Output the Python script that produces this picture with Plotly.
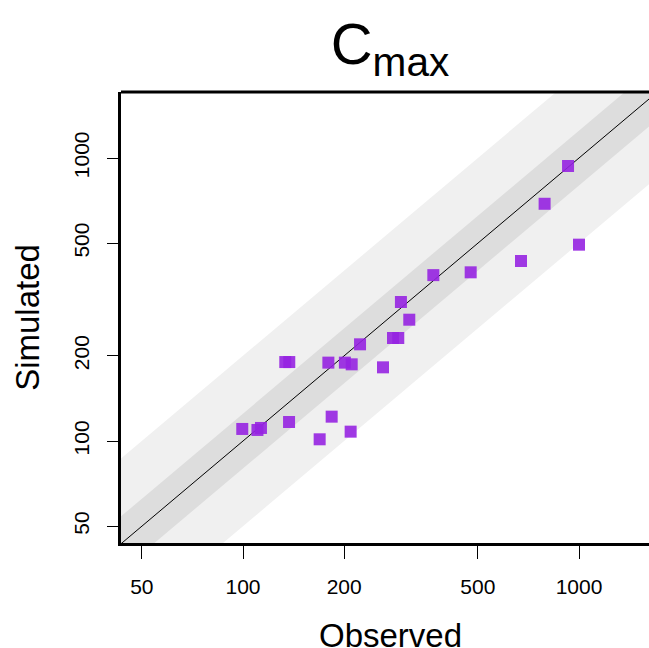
import plotly.graph_objects as go

# Observed vs simulated Cmax values
observed = [99.5, 110.4, 113.1, 137.1, 133.6, 137.3, 179.5, 183.6, 169.1,
            201.0, 210.6, 223.0, 209.1, 261.0, 279.5, 289.8, 295.1, 312.5,
            368.5, 476.0, 672.0, 790.0, 927.6, 1000.0]
simulated = [110.3, 109.4, 111.2, 116.7, 190.1, 190.1, 189.2, 121.9, 101.4,
             189.2, 186.6, 219.6, 107.9, 182.1, 231.2, 231.2, 309.8, 268.3,
             385.6, 394.5, 432.6, 689.0, 937.0, 494.0]

# fold-error bands drawn around the line of identity
band_folds = [2.0, 1.25]
band_colors = ["#F0F0F0", "#DDDDDD"]

tick_vals = [50, 100, 200, 500, 1000]
tick_text = ["50", "100", "200", "500", "1000"]

x_span = [1, 100000]

fig = go.Figure()

for fold, color in zip(band_folds, band_colors):
    bx = [x_span[0], x_span[1], x_span[1], x_span[0], x_span[0]]
    by = [x_span[0] * fold, x_span[1] * fold, x_span[1] / fold, x_span[0] / fold, x_span[0] * fold]
    fig.add_trace(go.Scatter(x=bx, y=by, mode="lines", fill="toself",
                             fillcolor=color, line=dict(width=0),
                             hoverinfo="skip", showlegend=False))

fig.add_trace(go.Scatter(x=x_span, y=x_span, mode="lines",
                         line=dict(color="black", width=1),
                         hoverinfo="skip", showlegend=False))

fig.add_trace(go.Scatter(x=observed, y=simulated, mode="markers",
                         marker=dict(symbol="square", size=12,
                                     color="rgba(150,35,225,0.9)",
                                     line=dict(width=0)),
                         showlegend=False))

font_family = "Liberation Sans, Arial, sans-serif"

fig.update_layout(
    width=649, height=648,
    margin=dict(l=121, r=0, t=92, b=105),
    paper_bgcolor="white", plot_bgcolor="white",
    font=dict(family=font_family, color="black"),
    title=dict(text="C<sub>max</sub>", font=dict(size=58, color="black"),
               xref="container", x=390 / 649, xanchor="center",
               yref="container", y=1 - 44 / 648, yanchor="middle"),
    shapes=[dict(type="line", xref="paper", yref="paper",
                 x0=0, x1=1, y0=1, y1=1,
                 line=dict(color="black", width=3))],
    annotations=[dict(text="Observed", xref="paper", yref="paper",
                      x=(390 - 121) / 528, y=0, xanchor="center",
                      yanchor="middle", yshift=-92, showarrow=False,
                      font=dict(size=33))],
)

fig.update_xaxes(
    type="log", range=[1.6369, 3.2083],
    tickvals=tick_vals, ticktext=tick_text,
    ticks="outside", ticklen=13, tickwidth=1, tickcolor="black",
    tickfont=dict(size=21), ticklabelstandoff=10,
    showline=True, linecolor="black", linewidth=3,
    showgrid=False, zeroline=False,
)

fig.update_yaxes(
    type="log", range=[1.6396, 3.2332],
    tickvals=tick_vals, ticktext=tick_text,
    ticks="outside", ticklen=11, tickwidth=1, tickcolor="black",
    tickfont=dict(size=21), tickangle=-90, ticklabelstandoff=10,
    showline=True, linecolor="black", linewidth=3,
    showgrid=False, zeroline=False,
    title=dict(text="Simulated", font=dict(size=33), standoff=21),
)

fig.write_html("out.html")
